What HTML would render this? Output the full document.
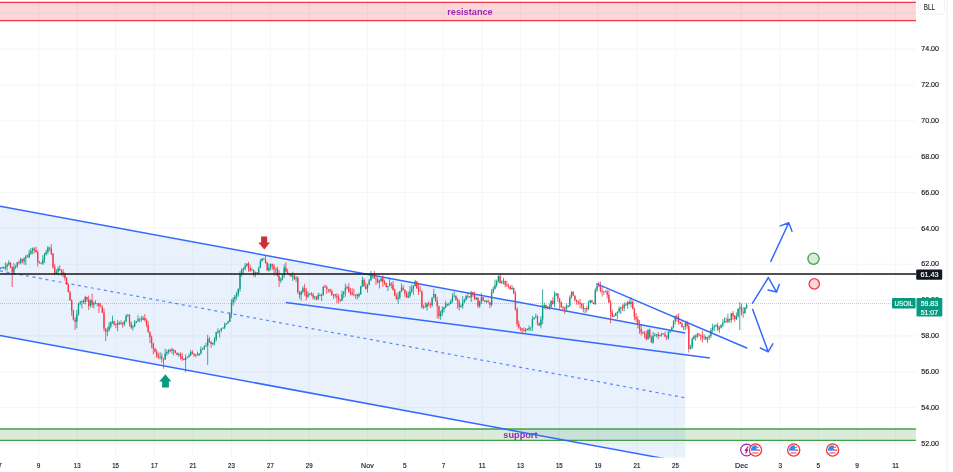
<!DOCTYPE html>
<html><head><meta charset="utf-8"><style>
html,body{margin:0;padding:0;background:#fff;width:953px;height:472px;overflow:hidden}
svg{display:block;font-family:"Liberation Sans",sans-serif;will-change:transform}
</style></head><body>
<svg width="953" height="472" viewBox="0 0 953 472">
<rect width="953" height="472" fill="#fff"/>
<path d="M0 13.3H916M0 49.1H916M0 85.0H916M0 120.8H916M0 156.7H916M0 192.5H916M0 228.3H916M0 264.2H916M0 300.0H916M0 335.9H916M0 371.7H916M0 407.5H916M0 443.4H916M38.6 0V457.5M77.2 0V457.5M115.6 0V457.5M154.4 0V457.5M192.9 0V457.5M231.4 0V457.5M270.4 0V457.5M309.2 0V457.5M367.4 0V457.5M404.7 0V457.5M443.5 0V457.5M482.2 0V457.5M520.5 0V457.5M559.3 0V457.5M597.9 0V457.5M636.9 0V457.5M675.5 0V457.5M741.4 0V457.5M780.2 0V457.5M818.4 0V457.5M857.0 0V457.5M895.6 0V457.5" stroke="#f5f6f7" stroke-width="1.1" fill="none"/>
<defs><clipPath id="pane"><rect x="0" y="0" width="916" height="457.5"/></clipPath></defs>
<g clip-path="url(#pane)">
<rect x="0" y="2.3" width="916" height="18.3" fill="#f23645" fill-opacity="0.2"/>
<path d="M0 2.3H916M0 20.6H916" stroke="#f23645" stroke-width="1.3" fill="none"/>
<text x="470" y="15.3" text-anchor="middle" font-family="Liberation Sans" font-weight="bold" font-size="9.2" fill="#9c27b0">resistance</text>
<polygon points="0,206.2 685.3,333.1 685.3,462.5 0,335.6" fill="#2373eb" fill-opacity="0.1"/>
<rect x="0" y="429" width="916" height="11.2" fill="#43a047" fill-opacity="0.2"/>
<path d="M0 429H916M0 440.3H916" stroke="#43a047" stroke-width="1.3" fill="none"/>
<text x="520.4" y="437.8" text-anchor="middle" font-family="Liberation Sans" font-weight="bold" font-size="9.2" fill="#9c27b0">support</text>
<path d="M0 270.9L685.3 397.8" stroke="#2962ff" stroke-width="1.2" stroke-dasharray="3 3.6" fill="none" opacity="0.75"/>
<path d="M0 206.2L685.3 333.1M0 335.6L685.3 462.5" stroke="#2962ff" stroke-width="1.5" fill="none" opacity="0.95"/>
<path d="M0 303.5H892" stroke="#089981" stroke-width="1" stroke-dasharray="1 1" fill="none" opacity="0.35"/>
<path d="M3.7 266.7V269.2M10.5 262.3V268.3M12.2 266.3V287.0M19.0 260.3V264.6M22.4 258.6V263.4M27.5 254.7V257.0M34.3 247.3V253.3M36.0 246.5V252.5M37.7 250.5V266.6M39.4 260.9V263.7M41.1 262.2V264.2M49.6 247.0V250.8M51.3 244.2V255.2M53.0 253.0V268.7M54.7 264.2V275.2M59.8 265.3V270.6M61.5 269.5V275.9M63.2 269.2V277.4M64.9 272.6V280.8M66.6 277.1V285.0M68.3 283.2V292.3M70.0 290.5V300.5M71.7 299.1V315.7M73.4 309.6V320.5M75.1 317.3V330.0M83.6 299.2V304.0M87.0 296.8V301.9M88.7 295.7V310.0M92.1 293.6V307.5M95.5 300.3V304.3M98.9 302.5V313.0M100.6 303.1V306.8M102.3 305.3V313.3M104.0 308.5V331.5M105.7 328.2V341.0M114.2 320.9V325.7M115.9 323.2V328.2M119.3 321.2V325.0M122.7 322.1V327.6M129.5 313.9V326.5M131.2 321.2V329.0M141.4 315.9V321.8M144.8 314.1V321.6M146.5 318.6V327.2M148.2 321.1V332.5M149.9 331.3V343.1M151.6 335.5V348.3M153.3 342.7V354.2M155.0 347.9V352.6M156.7 349.5V357.9M158.4 352.9V358.9M161.8 353.2V362.7M163.5 358.3V368.7M170.3 348.7V352.4M173.7 349.5V355.5M175.4 349.9V353.2M177.1 352.3V355.2M180.5 352.3V359.6M182.2 352.8V360.8M183.9 358.2V360.1M192.4 350.1V354.2M194.1 353.0V356.8M197.5 351.6V355.8M209.4 336.8V343.0M211.1 341.2V347.7M248.5 261.8V271.8M250.2 264.7V271.9M253.6 269.8V276.5M257.0 272.3V273.8M263.8 257.7V259.6M265.5 255.5V263.7M267.2 261.8V270.4M272.3 263.5V269.9M274.0 263.9V275.8M277.4 266.6V276.7M279.1 270.2V287.0M285.9 262.1V272.4M287.6 268.9V273.7M289.3 273.0V275.6M291.0 274.4V276.7M294.4 274.1V280.1M297.8 276.2V293.9M299.5 291.1V298.7M304.6 283.8V295.7M306.3 288.2V300.5M311.4 292.1V296.2M313.1 292.9V299.4M316.5 296.3V300.3M319.9 293.2V296.3M325.0 284.5V287.9M326.7 285.3V293.8M328.4 289.1V292.6M330.1 288.5V292.9M331.8 289.4V295.9M335.2 293.9V297.8M336.9 293.3V303.1M338.6 294.3V303.7M340.3 299.5V301.9M348.8 283.2V292.9M350.5 288.1V295.5M352.2 288.2V295.5M353.9 288.9V296.3M357.3 293.8V299.6M364.1 278.2V286.5M365.8 282.6V289.7M374.3 270.9V278.6M376.0 276.6V285.0M377.7 277.6V283.3M382.8 275.2V286.9M384.5 279.7V284.8M386.2 282.7V287.6M391.3 282.2V288.4M393.0 281.0V290.7M394.7 288.3V296.2M396.4 293.4V299.4M403.2 285.3V290.5M404.9 289.4V297.0M406.6 291.0V298.0M416.8 281.1V288.6M418.5 282.9V294.9M420.2 285.8V291.3M421.9 290.0V308.7M425.3 302.3V307.6M428.7 301.2V306.2M430.4 302.6V308.1M435.5 293.8V301.6M437.2 296.7V318.4M438.9 305.7V319.2M447.4 303.7V306.2M455.9 295.4V300.4M457.6 297.6V308.9M459.3 299.7V310.4M467.8 293.1V298.5M469.5 296.0V297.5M472.9 291.9V296.9M474.6 291.5V300.0M478.0 297.4V308.0M483.1 297.2V301.5M484.8 300.1V302.0M488.2 299.5V302.6M489.9 301.9V308.2M500.1 273.6V283.7M505.2 280.5V287.3M506.9 280.9V286.7M508.6 283.6V288.6M510.3 285.5V289.9M513.7 287.3V294.0M515.4 290.8V310.7M517.1 307.3V326.8M518.8 320.6V329.4M520.5 326.8V331.2M522.2 328.2V334.3M523.9 327.4V331.4M537.5 315.2V325.4M539.2 322.4V325.8M546.0 304.6V309.6M547.7 306.0V309.1M552.8 297.5V304.8M557.9 293.5V302.1M559.6 297.9V310.1M561.3 301.4V307.7M563.0 305.6V311.4M564.7 306.5V313.9M573.2 291.4V296.1M574.9 295.6V301.7M576.6 299.4V304.7M578.3 300.5V304.8M580.0 298.9V308.5M581.7 302.7V309.2M583.4 303.2V312.3M586.8 306.2V312.5M591.9 299.9V302.6M593.6 302.5V304.4M598.7 281.7V286.9M600.4 281.7V292.4M602.1 286.9V296.6M605.5 290.4V292.6M607.2 289.6V298.4M608.9 290.3V303.0M610.6 300.0V323.3M612.3 309.7V317.1M622.5 304.4V311.1M625.9 302.5V305.7M629.3 299.4V304.4M632.7 300.6V309.5M634.4 307.5V320.3M636.1 313.1V322.2M637.8 316.1V328.4M639.5 320.1V333.7M641.2 323.9V335.5M642.9 331.4V333.9M644.6 330.8V338.2M646.3 331.0V340.5M649.7 328.4V338.3M651.4 335.3V342.6M658.2 332.0V339.2M663.3 333.5V334.6M665.0 331.4V336.8M666.7 335.2V340.3M676.9 314.3V321.8M678.6 313.1V324.7M680.3 321.7V324.1M682.0 321.2V327.3M687.1 320.7V328.6M688.8 323.8V352.6M695.6 334.3V340.8M699.0 333.1V336.5M700.7 334.4V340.3M702.4 330.5V342.5M705.8 335.6V340.3M717.7 322.5V331.1M726.2 317.6V322.6M729.6 318.5V322.4M733.0 311.0V319.8M734.7 315.0V321.7M741.5 303.6V315.7M743.2 307.2V317.8" stroke="#f23645" stroke-width="0.8" fill="none"/>
<path d="M0.3 267.1V269.5M2.0 266.8V268.7M5.4 262.3V270.4M7.1 263.2V270.7M8.8 260.2V265.7M13.9 262.9V273.9M15.6 264.7V269.0M17.3 262.0V267.9M20.7 257.7V264.4M24.1 257.0V264.5M25.8 254.8V265.2M29.2 249.8V258.2M30.9 247.9V254.9M32.6 247.5V254.3M42.8 255.2V265.0M44.5 252.9V263.1M46.2 249.7V255.6M47.9 245.9V254.2M56.4 269.2V273.6M58.1 266.4V275.5M76.8 309.9V328.2M78.5 302.8V315.5M80.2 300.8V305.1M81.9 300.6V308.4M85.3 295.7V304.4M90.4 299.5V307.3M93.8 301.5V308.5M97.2 303.7V306.4M107.4 327.3V336.2M109.1 322.2V331.8M110.8 321.4V328.5M112.5 315.6V324.0M117.6 319.9V331.2M121.0 320.3V324.6M124.4 320.4V326.2M126.1 314.3V322.5M127.8 314.0V316.7M132.9 325.2V330.5M134.6 320.1V327.0M136.3 321.0V323.2M138.0 315.3V321.9M139.7 318.5V322.4M143.1 316.0V320.2M160.1 352.0V359.5M165.2 348.8V359.7M166.9 349.8V355.8M168.6 349.2V354.1M172.0 347.8V353.8M178.8 352.7V356.8M185.6 354.5V372.4M187.3 356.6V358.4M189.0 353.4V357.6M190.7 350.1V355.7M195.8 354.4V357.4M199.2 353.5V355.7M200.9 346.4V354.6M202.6 347.8V350.0M204.3 345.3V350.0M206.0 342.7V346.8M207.7 334.7V365.0M212.8 342.7V345.4M214.5 337.1V345.3M216.2 331.8V341.4M217.9 328.3V333.7M219.6 330.5V337.7M221.3 328.0V332.3M223.0 327.5V328.6M224.7 322.6V329.2M226.4 323.0V324.5M228.1 320.7V323.8M229.8 311.9V322.0M231.5 299.2V318.1M233.2 297.0V305.8M234.9 294.7V302.5M236.6 291.6V299.7M238.3 288.4V296.7M240.0 271.1V291.9M241.7 268.4V276.8M243.4 267.3V273.6M245.1 263.2V270.4M246.8 263.5V266.5M251.9 267.7V270.8M255.3 271.5V277.3M258.7 266.4V273.6M260.4 258.8V268.1M262.1 258.3V261.6M268.9 263.7V271.7M270.6 263.4V270.3M275.7 268.4V273.8M280.8 277.3V283.2M282.5 274.9V280.4M284.2 264.4V277.8M292.7 271.8V280.9M296.1 276.1V282.2M301.2 290.4V300.6M302.9 286.2V293.4M308.0 291.2V297.9M309.7 293.4V295.3M314.8 296.3V299.9M318.2 292.6V300.0M321.6 293.7V301.0M323.3 286.4V295.8M333.5 294.8V298.8M342.0 290.7V301.2M343.7 291.5V298.2M345.4 283.6V296.8M347.1 285.7V289.4M355.6 294.6V298.8M359.0 292.7V297.5M360.7 286.0V295.0M362.4 276.6V287.2M367.5 284.0V292.5M369.2 278.9V285.4M370.9 271.0V280.6M372.6 274.6V278.4M379.4 279.5V288.5M381.1 278.3V281.6M387.9 286.0V291.1M389.6 277.8V286.2M398.1 292.2V303.9M399.8 290.8V299.4M401.5 283.5V292.2M408.3 291.7V298.2M410.0 286.0V297.8M411.7 284.7V293.0M413.4 285.2V295.0M415.1 279.9V286.5M423.6 304.6V309.1M427.0 302.9V310.7M432.1 297.3V307.0M433.8 288.8V298.2M440.6 310.7V319.9M442.3 306.4V316.0M444.0 306.7V312.5M445.7 300.8V308.2M449.1 302.3V305.9M450.8 299.4V304.0M452.5 293.2V302.4M454.2 291.5V297.3M461.0 304.2V307.5M462.7 296.0V308.7M464.4 298.6V303.2M466.1 295.0V300.4M471.2 290.9V301.9M476.3 297.0V299.8M479.7 300.7V308.0M481.4 293.0V303.9M486.5 300.2V303.3M491.6 289.2V306.5M493.3 286.7V293.4M495.0 279.6V289.6M496.7 279.5V287.4M498.4 275.5V282.6M501.8 280.2V284.0M503.5 277.8V284.4M512.0 284.9V289.9M525.6 327.9V332.8M527.3 328.2V330.5M529.0 325.4V331.1M530.7 328.0V330.9M532.4 315.9V331.0M534.1 317.5V319.8M535.8 313.8V317.9M540.9 316.2V328.3M542.6 289.3V324.1M544.3 302.6V308.7M549.4 303.6V309.9M551.1 300.0V307.4M554.5 291.3V307.2M556.2 292.8V296.0M566.4 303.2V311.2M568.1 305.2V307.8M569.8 295.3V307.1M571.5 291.3V298.5M585.1 308.0V313.3M588.5 300.8V309.8M590.2 299.8V303.3M595.3 288.3V305.0M597.0 283.6V292.0M603.8 291.6V295.1M614.0 314.2V317.1M615.7 312.7V316.0M617.4 311.5V319.0M619.1 306.4V313.4M620.8 306.8V314.1M624.2 302.5V311.2M627.6 301.1V308.8M631.0 297.3V307.6M648.0 329.2V339.8M653.1 332.0V343.9M654.8 333.0V336.6M656.5 333.9V337.4M659.9 334.7V336.7M661.6 332.8V336.5M668.4 331.2V339.6M670.1 330.3V333.0M671.8 326.3V331.1M673.5 320.3V328.4M675.2 315.5V324.5M683.7 326.0V330.3M685.4 322.5V330.1M690.5 344.8V349.5M692.2 337.0V349.1M693.9 334.9V339.7M697.3 332.7V338.4M704.1 333.8V339.8M707.5 336.8V342.8M709.2 334.8V340.0M710.9 327.9V338.0M712.6 323.8V332.3M714.3 324.8V330.9M716.0 323.9V327.2M719.4 326.1V332.9M721.1 324.4V328.5M722.8 319.1V327.1M724.5 317.5V322.9M727.9 313.8V323.2M731.3 312.8V323.0M736.4 312.5V320.1M738.1 308.4V317.8M739.8 302.1V330.0M744.9 307.0V313.5M746.6 302.8V309.0" stroke="#089981" stroke-width="0.8" fill="none"/>
<path d="M3.7 267.3V268.2M10.5 262.4V267.0M12.2 267.0V272.5M19.0 262.2V263.0M22.4 259.2V261.6M27.5 256.5V257.3M34.3 248.6V250.1M36.0 250.1V251.9M37.7 251.9V261.9M39.4 261.9V262.7M41.1 262.7V263.5M49.6 247.4V248.2M51.3 248.2V253.8M53.0 253.8V267.0M54.7 267.0V273.5M59.8 268.7V270.2M61.5 270.2V272.3M63.2 272.3V274.2M64.9 274.2V277.9M66.6 277.9V284.6M68.3 284.6V291.9M70.0 291.9V300.5M71.7 300.5V310.7M73.4 310.7V319.6M75.1 319.6V321.8M83.6 301.1V301.9M87.0 296.9V299.5M88.7 299.5V305.8M92.1 300.3V304.8M95.5 303.2V304.0M98.9 303.2V306.1M100.6 306.1V306.9M102.3 306.9V312.4M104.0 312.4V328.7M105.7 328.7V331.6M114.2 321.2V324.2M115.9 324.2V325.0M119.3 323.1V323.9M122.7 323.1V324.3M129.5 315.2V323.3M131.2 323.3V327.5M141.4 318.5V319.8M144.8 318.0V320.0M146.5 320.0V325.0M148.2 325.0V332.2M149.9 332.2V337.2M151.6 337.2V343.4M153.3 343.4V348.7M155.0 348.7V351.4M156.7 351.4V356.2M158.4 356.2V357.3M161.8 356.5V358.6M163.5 358.6V359.4M170.3 349.9V350.7M173.7 349.5V351.1M175.4 351.1V353.0M177.1 353.0V354.9M180.5 354.1V356.3M182.2 356.3V359.1M183.9 359.1V359.9M192.4 351.9V353.9M194.1 353.9V355.2M197.5 354.4V355.2M209.4 338.7V341.7M211.1 341.7V344.0M248.5 263.5V268.0M250.2 268.0V270.6M253.6 269.8V273.6M257.0 272.3V273.1M263.8 258.8V259.6M265.5 259.6V262.6M267.2 262.6V270.4M272.3 264.1V266.0M274.0 266.0V269.3M277.4 268.5V276.1M279.1 276.1V280.8M285.9 267.4V271.8M287.6 271.8V273.6M289.3 273.6V274.4M291.0 274.4V276.6M294.4 275.8V278.9M297.8 277.9V291.9M299.5 291.9V294.9M304.6 288.2V291.2M306.3 291.2V296.7M311.4 293.4V294.6M313.1 294.6V297.4M316.5 296.6V299.2M319.9 294.9V295.7M325.0 286.5V287.3M326.7 287.3V289.1M328.4 289.1V290.0M330.1 290.0V291.2M331.8 291.2V295.1M335.2 294.3V295.8M336.9 295.8V297.2M338.6 297.2V299.5M340.3 299.5V300.6M348.8 286.9V291.5M350.5 291.5V292.4M352.2 292.4V294.4M353.9 294.4V295.2M357.3 294.4V296.3M364.1 280.1V286.3M365.8 286.3V288.7M374.3 275.2V278.4M376.0 278.4V279.2M377.7 279.2V282.6M382.8 278.3V281.7M384.5 281.7V283.2M386.2 283.2V286.9M391.3 283.6V284.6M393.0 284.6V289.9M394.7 289.9V295.4M396.4 295.4V299.3M403.2 287.7V290.1M404.9 290.1V293.5M406.6 293.5V297.5M416.8 281.2V288.4M418.5 288.4V290.9M420.2 290.9V291.7M421.9 291.7V307.2M425.3 306.4V307.3M428.7 303.3V304.1M430.4 304.1V304.9M435.5 293.9V300.7M437.2 300.7V306.3M438.9 306.3V316.2M447.4 303.7V304.7M455.9 295.8V300.0M457.6 300.0V302.6M459.3 302.6V306.9M467.8 296.0V296.8M469.5 296.8V297.6M472.9 292.2V294.9M474.6 294.9V298.9M478.0 297.8V305.9M483.1 297.3V300.2M484.8 300.2V301.8M488.2 301.0V302.2M489.9 302.2V304.7M500.1 276.0V282.9M505.2 281.0V284.8M506.9 284.8V286.0M508.6 286.0V286.8M510.3 286.8V289.1M513.7 288.0V293.4M515.4 293.4V308.9M517.1 308.9V323.9M518.8 323.9V327.7M520.5 327.7V328.5M522.2 328.5V330.1M523.9 330.1V330.9M537.5 316.7V323.2M539.2 323.2V325.4M546.0 304.9V306.6M547.7 306.6V308.5M552.8 301.0V304.1M557.9 293.6V298.6M559.6 298.6V302.5M561.3 302.5V307.5M563.0 307.5V308.3M564.7 308.3V309.3M573.2 291.8V295.6M574.9 295.6V299.9M576.6 299.9V301.4M578.3 301.4V302.7M580.0 302.7V304.1M581.7 304.1V306.2M583.4 306.2V309.1M586.8 308.3V309.6M591.9 300.4V302.5M593.6 302.5V304.0M598.7 285.9V286.7M600.4 286.7V290.8M602.1 290.8V291.7M605.5 290.9V291.7M607.2 291.7V294.8M608.9 294.8V302.6M610.6 302.6V312.6M612.3 312.6V316.8M622.5 307.2V308.0M625.9 304.6V305.4M629.3 302.0V304.0M632.7 301.8V308.8M634.4 308.8V317.0M636.1 317.0V319.2M637.8 319.2V324.9M639.5 324.9V329.1M641.2 329.1V332.4M642.9 332.4V333.4M644.6 333.4V334.5M646.3 334.5V339.1M649.7 330.1V337.2M651.4 337.2V342.4M658.2 334.3V336.0M663.3 333.5V334.3M665.0 334.3V336.7M666.7 336.7V337.9M676.9 316.3V317.6M678.6 317.6V322.0M680.3 322.0V323.7M682.0 323.7V327.3M687.1 322.5V326.0M688.8 326.0V349.1M695.6 336.2V337.0M699.0 334.3V335.1M700.7 335.1V335.9M702.4 335.9V337.7M705.8 336.9V339.2M717.7 325.5V329.6M726.2 320.9V321.7M729.6 319.0V320.0M733.0 313.3V316.1M734.7 316.1V319.1M741.5 307.3V312.4M743.2 312.4V313.2" stroke="#f23645" stroke-width="1.3" fill="none"/>
<path d="M0.3 268.1V268.9M2.0 267.3V268.1M5.4 266.4V268.2M7.1 264.5V266.4M8.8 262.4V264.5M13.9 267.2V272.5M15.6 266.3V267.2M17.3 262.2V266.3M20.7 259.2V263.0M24.1 258.4V261.6M25.8 256.5V258.4M29.2 253.4V257.3M30.9 251.1V253.4M32.6 248.6V251.1M42.8 259.2V263.5M44.5 254.3V259.2M46.2 252.1V254.3M47.9 247.4V252.1M56.4 271.8V273.5M58.1 268.7V271.8M76.8 314.5V321.8M78.5 303.5V314.5M80.2 301.9V303.5M81.9 301.1V301.9M85.3 296.9V301.9M90.4 300.3V305.8M93.8 303.2V304.8M97.2 303.2V304.0M107.4 330.3V331.6M109.1 326.3V330.3M110.8 322.0V326.3M112.5 321.2V322.0M117.6 323.1V325.0M121.0 323.1V323.9M124.4 320.9V324.3M126.1 316.1V320.9M127.8 315.2V316.1M132.9 326.6V327.5M134.6 322.7V326.6M136.3 321.2V322.7M138.0 319.3V321.2M139.7 318.5V319.3M143.1 318.0V319.8M160.1 356.5V357.3M165.2 353.5V359.4M166.9 352.0V353.5M168.6 349.9V352.0M172.0 349.5V350.7M178.8 354.1V354.9M185.6 357.8V359.9M187.3 357.0V357.8M189.0 355.6V357.0M190.7 351.9V355.6M195.8 354.4V355.2M199.2 353.5V355.2M200.9 349.5V353.5M202.6 348.7V349.5M204.3 346.5V348.7M206.0 345.7V346.5M207.7 338.7V345.7M212.8 342.7V344.0M214.5 339.5V342.7M216.2 332.2V339.5M217.9 331.0V332.2M219.6 330.2V331.0M221.3 328.5V330.2M223.0 327.6V328.5M224.7 324.5V327.6M226.4 323.2V324.5M228.1 321.7V323.2M229.8 314.0V321.7M231.5 302.5V314.0M233.2 299.2V302.5M234.9 296.5V299.2M236.6 294.0V296.5M238.3 289.0V294.0M240.0 273.9V289.0M241.7 269.6V273.9M243.4 268.8V269.6M245.1 265.9V268.8M246.8 263.5V265.9M251.9 269.8V270.6M255.3 272.3V273.6M258.7 268.0V273.1M260.4 261.3V268.0M262.1 258.8V261.3M268.9 267.4V270.4M270.6 264.1V267.4M275.7 268.5V269.3M280.8 279.2V280.8M282.5 275.3V279.2M284.2 267.4V275.3M292.7 275.8V276.6M296.1 277.9V278.9M301.2 291.7V294.9M302.9 288.2V291.7M308.0 294.2V296.7M309.7 293.4V294.2M314.8 296.6V297.4M318.2 294.9V299.2M321.6 294.7V295.7M323.3 286.5V294.7M333.5 294.3V295.1M342.0 294.0V300.6M343.7 291.5V294.0M345.4 287.7V291.5M347.1 286.9V287.7M355.6 294.4V295.2M359.0 294.1V296.3M360.7 286.3V294.1M362.4 280.1V286.3M367.5 284.5V288.7M369.2 280.5V284.5M370.9 276.0V280.5M372.6 275.2V276.0M379.4 281.2V282.6M381.1 278.3V281.2M387.9 286.1V286.9M389.6 283.6V286.1M398.1 297.2V299.3M399.8 291.4V297.2M401.5 287.7V291.4M408.3 295.7V297.5M410.0 291.2V295.7M411.7 288.8V291.2M413.4 286.1V288.8M415.1 281.2V286.1M423.6 306.4V307.2M427.0 303.3V307.3M432.1 297.6V304.9M433.8 293.9V297.6M440.6 312.6V316.2M442.3 309.4V312.6M444.0 307.6V309.4M445.7 303.7V307.6M449.1 303.9V304.7M450.8 301.2V303.9M452.5 296.6V301.2M454.2 295.8V296.6M461.0 306.0V306.9M462.7 302.0V306.0M464.4 299.8V302.0M466.1 296.0V299.8M471.2 292.2V297.6M476.3 297.8V298.9M479.7 301.4V305.9M481.4 297.3V301.4M486.5 301.0V301.8M491.6 292.2V304.7M493.3 288.8V292.2M495.0 285.2V288.8M496.7 281.3V285.2M498.4 276.0V281.3M501.8 282.1V282.9M503.5 281.0V282.1M512.0 288.0V289.1M525.6 329.7V330.9M527.3 328.9V329.7M529.0 328.1V328.9M530.7 327.3V328.1M532.4 319.2V327.3M534.1 317.6V319.2M535.8 316.7V317.6M540.9 319.6V325.4M542.6 307.2V319.6M544.3 304.9V307.2M549.4 307.1V308.5M551.1 301.0V307.1M554.5 295.2V304.1M556.2 293.6V295.2M566.4 306.4V309.3M568.1 305.3V306.4M569.8 297.3V305.3M571.5 291.8V297.3M585.1 308.3V309.1M588.5 302.8V309.6M590.2 300.4V302.8M595.3 290.2V304.0M597.0 285.9V290.2M603.8 290.9V291.7M614.0 315.9V316.8M615.7 313.0V315.9M617.4 311.8V313.0M619.1 308.6V311.8M620.8 307.2V308.6M624.2 304.6V308.0M627.6 302.0V305.4M631.0 301.8V304.0M648.0 330.1V339.1M653.1 335.9V342.4M654.8 335.1V335.9M656.5 334.3V335.1M659.9 335.1V336.0M661.6 333.5V335.1M668.4 332.1V337.9M670.1 331.1V332.1M671.8 327.5V331.1M673.5 321.1V327.5M675.2 316.3V321.1M683.7 326.5V327.3M685.4 322.5V326.5M690.5 347.2V349.1M692.2 338.9V347.2M693.9 336.2V338.9M697.3 334.3V337.0M704.1 336.9V337.7M707.5 337.2V339.2M709.2 335.8V337.2M710.9 330.0V335.8M712.6 327.2V330.0M714.3 326.3V327.2M716.0 325.5V326.3M719.4 327.7V329.6M721.1 325.0V327.7M722.8 322.9V325.0M724.5 320.9V322.9M727.9 319.0V321.7M731.3 313.3V320.0M736.4 316.3V319.1M738.1 308.7V316.3M739.8 307.3V308.7M744.9 307.7V313.2M746.6 305.1V307.7" stroke="#089981" stroke-width="1.3" fill="none"/>
<path d="M0 274.1H916" stroke="#141414" stroke-width="1.5" fill="none"/>
<path d="M285.8 302.5L709.9 358M596.3 283.6L747.3 348.3" stroke="#2962ff" stroke-width="1.5" fill="none" opacity="0.95"/>
<path d="M770.8 261.4L788.8 222.7M780.3 225.9L788.8 222.7L792 231.2M752.5 303.2L768.4 277.5L776.6 292.1M768.1 290L776.6 292.1L779.2 284.5M752.7 309.5L768.2 351.8M760.3 348L768.2 351.8L772.8 343.8" stroke="#2962ff" stroke-width="1.5" fill="none" stroke-linecap="round" stroke-linejoin="round" opacity="0.95"/>
<circle cx="813.5" cy="258.8" r="5.6" fill="#43a047" fill-opacity="0.2" stroke="#43a047" stroke-width="1.3"/>
<circle cx="814.3" cy="283.9" r="5.2" fill="#f23645" fill-opacity="0.2" stroke="#f23645" stroke-width="1.3"/>
<path d="M261.1 236.4H267.2V242.4H270L264.3 249.4L258.3 242.4H261.1Z" fill="#cc2f3c"/>
<path d="M165.4 374.2L171.3 381.4H168.9V387.6H162.1V381.4H159.2Z" fill="#089981"/>
</g>
<circle cx="746.6" cy="450" r="5.9" fill="#fff" stroke="#9c27b0" stroke-width="1.2"/>
<path d="M748.2 446.6L745.3 450.4L747.7 449.9L745.5 453.4" stroke="#9c27b0" stroke-width="1.2" fill="none" stroke-linejoin="round"/>
<clipPath id="fc755"><circle cx="755.5" cy="450.0" r="4.7"/></clipPath><circle cx="755.5" cy="450.0" r="6.1" fill="#fff" stroke="#f23645" stroke-width="1.3"/><g clip-path="url(#fc755)"><rect x="750.5" y="445.0" width="6.2" height="5.7" fill="#2f8cf0"/><path d="M756.7 449.6h4v1.1h-4zM756.7 446.8h2.2v0.9h-2.2zM752.0 452.5h6.4v1.1h-6.4z" fill="#f23645"/></g>
<clipPath id="fc793"><circle cx="793.7" cy="450.0" r="4.7"/></clipPath><circle cx="793.7" cy="450.0" r="6.1" fill="#fff" stroke="#f23645" stroke-width="1.3"/><g clip-path="url(#fc793)"><rect x="788.7" y="445.0" width="6.2" height="5.7" fill="#2f8cf0"/><path d="M794.9 449.6h4v1.1h-4zM794.9 446.8h2.2v0.9h-2.2zM790.2 452.5h6.4v1.1h-6.4z" fill="#f23645"/></g>
<clipPath id="fc832"><circle cx="832.6" cy="450.0" r="4.7"/></clipPath><circle cx="832.6" cy="450.0" r="6.1" fill="#fff" stroke="#f23645" stroke-width="1.3"/><g clip-path="url(#fc832)"><rect x="827.6" y="445.0" width="6.2" height="5.7" fill="#2f8cf0"/><path d="M833.8 449.6h4v1.1h-4zM833.8 446.8h2.2v0.9h-2.2zM829.1 452.5h6.4v1.1h-6.4z" fill="#f23645"/></g>
<text x="921.3" y="51.3" font-size="8.1" textLength="17.7" lengthAdjust="spacingAndGlyphs" fill="#131722" stroke="#131722" stroke-width="0.18">74.00</text>
<text x="921.3" y="87.1" font-size="8.1" textLength="17.7" lengthAdjust="spacingAndGlyphs" fill="#131722" stroke="#131722" stroke-width="0.18">72.00</text>
<text x="921.3" y="123.0" font-size="8.1" textLength="17.7" lengthAdjust="spacingAndGlyphs" fill="#131722" stroke="#131722" stroke-width="0.18">70.00</text>
<text x="921.3" y="158.8" font-size="8.1" textLength="17.7" lengthAdjust="spacingAndGlyphs" fill="#131722" stroke="#131722" stroke-width="0.18">68.00</text>
<text x="921.3" y="194.7" font-size="8.1" textLength="17.7" lengthAdjust="spacingAndGlyphs" fill="#131722" stroke="#131722" stroke-width="0.18">66.00</text>
<text x="921.3" y="230.5" font-size="8.1" textLength="17.7" lengthAdjust="spacingAndGlyphs" fill="#131722" stroke="#131722" stroke-width="0.18">64.00</text>
<text x="921.3" y="266.3" font-size="8.1" textLength="17.7" lengthAdjust="spacingAndGlyphs" fill="#131722" stroke="#131722" stroke-width="0.18">62.00</text>
<text x="921.3" y="302.2" font-size="8.1" textLength="17.7" lengthAdjust="spacingAndGlyphs" fill="#131722" stroke="#131722" stroke-width="0.18">60.00</text>
<text x="921.3" y="338.0" font-size="8.1" textLength="17.7" lengthAdjust="spacingAndGlyphs" fill="#131722" stroke="#131722" stroke-width="0.18">58.00</text>
<text x="921.3" y="373.9" font-size="8.1" textLength="17.7" lengthAdjust="spacingAndGlyphs" fill="#131722" stroke="#131722" stroke-width="0.18">56.00</text>
<text x="921.3" y="409.7" font-size="8.1" textLength="17.7" lengthAdjust="spacingAndGlyphs" fill="#131722" stroke="#131722" stroke-width="0.18">54.00</text>
<text x="921.3" y="445.5" font-size="8.1" textLength="17.7" lengthAdjust="spacingAndGlyphs" fill="#131722" stroke="#131722" stroke-width="0.18">52.00</text>
<rect x="916.2" y="269.4" width="26" height="10.4" rx="1" fill="#131722"/>
<text x="920.4" y="277.3" font-size="8.1" textLength="18.2" lengthAdjust="spacingAndGlyphs" fill="#fff" stroke="#fff" stroke-width="0.18">61.43</text>
<rect x="892" y="298" width="23.6" height="10.4" rx="1" fill="#089981"/>
<text x="894.5" y="306.1" font-size="8.1" textLength="18.7" lengthAdjust="spacingAndGlyphs" fill="#fff" stroke="#fff" stroke-width="0.18">USOIL</text>
<rect x="916.5" y="298" width="25.8" height="18.6" rx="1" fill="#089981"/>
<text x="920.7" y="305.9" font-size="8.1" textLength="17.4" lengthAdjust="spacingAndGlyphs" fill="#fff" stroke="#fff" stroke-width="0.18">59.83</text>
<text x="920.7" y="314.8" font-size="8.1" textLength="17.4" lengthAdjust="spacingAndGlyphs" fill="#fff" stroke="#fff" stroke-width="0.18">51:07</text>
<rect x="918.4" y="-3" width="26" height="17.2" rx="2.5" fill="#fff" stroke="#eeeeee" stroke-width="0.8"/>
<text x="923.8" y="10.2" font-size="8.2" textLength="11.1" lengthAdjust="spacingAndGlyphs" fill="#333" stroke="#333" stroke-width="0.18">BLL</text>
<path d="M947 0V472" stroke="#efefef" stroke-width="1"/>
<text x="0.0" y="468.3" text-anchor="middle" font-size="8.1" textLength="3.6" lengthAdjust="spacingAndGlyphs" fill="#131722" stroke="#131722" stroke-width="0.18">7</text>
<text x="38.6" y="468.3" text-anchor="middle" font-size="8.1" textLength="3.6" lengthAdjust="spacingAndGlyphs" fill="#131722" stroke="#131722" stroke-width="0.18">9</text>
<text x="77.2" y="468.3" text-anchor="middle" font-size="8.1" textLength="6.8" lengthAdjust="spacingAndGlyphs" fill="#131722" stroke="#131722" stroke-width="0.18">13</text>
<text x="115.6" y="468.3" text-anchor="middle" font-size="8.1" textLength="6.8" lengthAdjust="spacingAndGlyphs" fill="#131722" stroke="#131722" stroke-width="0.18">15</text>
<text x="154.4" y="468.3" text-anchor="middle" font-size="8.1" textLength="6.8" lengthAdjust="spacingAndGlyphs" fill="#131722" stroke="#131722" stroke-width="0.18">17</text>
<text x="192.9" y="468.3" text-anchor="middle" font-size="8.1" textLength="6.8" lengthAdjust="spacingAndGlyphs" fill="#131722" stroke="#131722" stroke-width="0.18">21</text>
<text x="231.4" y="468.3" text-anchor="middle" font-size="8.1" textLength="6.8" lengthAdjust="spacingAndGlyphs" fill="#131722" stroke="#131722" stroke-width="0.18">23</text>
<text x="270.4" y="468.3" text-anchor="middle" font-size="8.1" textLength="6.8" lengthAdjust="spacingAndGlyphs" fill="#131722" stroke="#131722" stroke-width="0.18">27</text>
<text x="309.2" y="468.3" text-anchor="middle" font-size="8.1" textLength="6.8" lengthAdjust="spacingAndGlyphs" fill="#131722" stroke="#131722" stroke-width="0.18">29</text>
<text x="367.4" y="468.3" text-anchor="middle" font-size="8.1" textLength="12.6" lengthAdjust="spacingAndGlyphs" fill="#131722" stroke="#131722" stroke-width="0.18">Nov</text>
<text x="404.7" y="468.3" text-anchor="middle" font-size="8.1" textLength="3.6" lengthAdjust="spacingAndGlyphs" fill="#131722" stroke="#131722" stroke-width="0.18">5</text>
<text x="443.5" y="468.3" text-anchor="middle" font-size="8.1" textLength="3.6" lengthAdjust="spacingAndGlyphs" fill="#131722" stroke="#131722" stroke-width="0.18">7</text>
<text x="482.2" y="468.3" text-anchor="middle" font-size="8.1" textLength="6.8" lengthAdjust="spacingAndGlyphs" fill="#131722" stroke="#131722" stroke-width="0.18">11</text>
<text x="520.5" y="468.3" text-anchor="middle" font-size="8.1" textLength="6.8" lengthAdjust="spacingAndGlyphs" fill="#131722" stroke="#131722" stroke-width="0.18">13</text>
<text x="559.3" y="468.3" text-anchor="middle" font-size="8.1" textLength="6.8" lengthAdjust="spacingAndGlyphs" fill="#131722" stroke="#131722" stroke-width="0.18">15</text>
<text x="597.9" y="468.3" text-anchor="middle" font-size="8.1" textLength="6.8" lengthAdjust="spacingAndGlyphs" fill="#131722" stroke="#131722" stroke-width="0.18">19</text>
<text x="636.9" y="468.3" text-anchor="middle" font-size="8.1" textLength="6.8" lengthAdjust="spacingAndGlyphs" fill="#131722" stroke="#131722" stroke-width="0.18">21</text>
<text x="675.5" y="468.3" text-anchor="middle" font-size="8.1" textLength="6.8" lengthAdjust="spacingAndGlyphs" fill="#131722" stroke="#131722" stroke-width="0.18">25</text>
<text x="741.4" y="468.3" text-anchor="middle" font-size="8.1" textLength="12.6" lengthAdjust="spacingAndGlyphs" fill="#131722" stroke="#131722" stroke-width="0.18">Dec</text>
<text x="780.2" y="468.3" text-anchor="middle" font-size="8.1" textLength="3.6" lengthAdjust="spacingAndGlyphs" fill="#131722" stroke="#131722" stroke-width="0.18">3</text>
<text x="818.4" y="468.3" text-anchor="middle" font-size="8.1" textLength="3.6" lengthAdjust="spacingAndGlyphs" fill="#131722" stroke="#131722" stroke-width="0.18">5</text>
<text x="857.0" y="468.3" text-anchor="middle" font-size="8.1" textLength="3.6" lengthAdjust="spacingAndGlyphs" fill="#131722" stroke="#131722" stroke-width="0.18">9</text>
<text x="895.6" y="468.3" text-anchor="middle" font-size="8.1" textLength="6.8" lengthAdjust="spacingAndGlyphs" fill="#131722" stroke="#131722" stroke-width="0.18">11</text>
</svg>
</body></html>
